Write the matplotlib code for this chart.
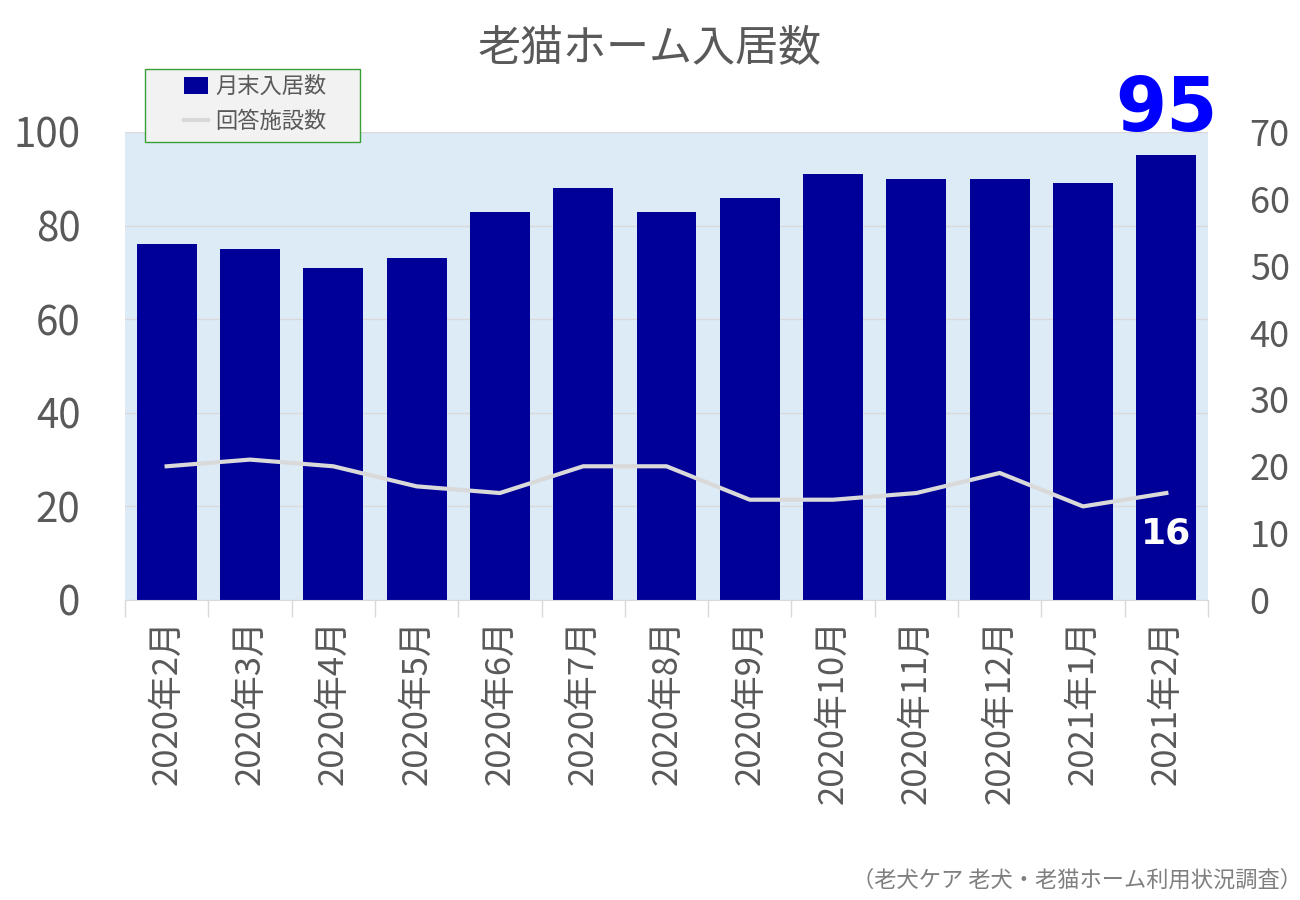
import matplotlib
matplotlib.use("Agg")
import matplotlib.pyplot as plt
from matplotlib.lines import Line2D
from matplotlib.patches import Patch, Rectangle

plt.rcParams['font.family'] = ['Noto Sans CJK JP', 'DejaVu Sans']

months = ["2020年2月", "2020年3月", "2020年4月", "2020年5月", "2020年6月",
          "2020年7月", "2020年8月", "2020年9月", "2020年10月", "2020年11月",
          "2020年12月", "2021年1月", "2021年2月"]
residents = [76, 75, 71, 73, 83, 88, 83, 86, 91, 90, 90, 89, 95]
facilities = [20, 21, 20, 17, 16, 20, 20, 15, 15, 16, 19, 14, 16]

grey = '#595959'
fig = plt.figure(figsize=(13, 9), dpi=100)
ax = fig.add_axes([125 / 1300, 1 - 600 / 900, (1208 - 125) / 1300, (600 - 132) / 900])
ax.set_facecolor('#DDEBF7')
x = list(range(len(months)))
ax.bar(x, residents, width=0.72, color='#000099', zorder=2)
ax.set_xlim(-0.5, len(months) - 0.5)
ax.set_ylim(0, 100)
ax.set_yticks(range(0, 101, 20))
ax.grid(axis='y', color='#D9D9D9', linewidth=1, zorder=1)
ax.set_xticks(x)
ax.set_xticklabels(months, rotation=90, fontsize=25, color=grey)
ax.set_xticks([i - 0.5 for i in range(len(months) + 1)], minor=True)
ax.tick_params(axis='x', which='major', length=0, pad=14)
ax.tick_params(axis='x', which='minor', length=12, color='#D9D9D9', width=1)
ax.tick_params(axis='y', length=0, pad=32, labelsize=29, labelcolor=grey)
for s in ['top', 'left', 'right']:
    ax.spines[s].set_visible(False)
ax.spines['bottom'].set_color('#D9D9D9')

ax2 = ax.twinx()
ax2.plot(x, facilities, color='#D9D9D9', linewidth=3, zorder=3)
ax2.set_ylim(0, 70)
ax2.set_yticks(range(0, 71, 10))
ax2.tick_params(axis='y', length=0, pad=30, labelsize=26, labelcolor=grey)
for s in ax2.spines.values():
    s.set_visible(False)

ax2.text(x[-1], facilities[-1] - 6, str(facilities[-1]), color='white',
         fontsize=26, fontweight='bold', family='DejaVu Sans', ha='center', va='center')
ax.text(x[-1], 96.8, str(residents[-1]), color='#0000FF', fontsize=53,
        fontweight='bold', family='DejaVu Sans', ha='center', va='bottom')

# legend box
fig.add_artist(Rectangle((145 / 1300, 1 - 142 / 900), 215 / 1300, 73 / 900,
                         transform=fig.transFigure, facecolor='#F2F2F2',
                         edgecolor='#38A038', linewidth=1, zorder=5))
handles = [Patch(facecolor='#000099'), Line2D([0], [0], color='#D9D9D9', linewidth=3)]
leg = fig.legend(handles, ['月末入居数', '回答施設数'], loc='upper left',
                 bbox_to_anchor=(184 / 1300, 1 - 75 / 900), fontsize=16,
                 frameon=False, handlelength=1.1, handleheight=0.8, handletextpad=0.3,
                 borderpad=0, labelspacing=0.55, borderaxespad=0)
leg.set_zorder(6)
for t in leg.get_texts():
    t.set_color(grey)

fig.text(0.5, 1 - 48 / 900, '老猫ホーム入居数', ha='center', va='center',
         fontsize=31, color=grey)
fig.text(1302 / 1300, 1 - 880 / 900, '（老犬ケア 老犬・老猫ホーム利用状況調査）',
         ha='right', va='center', fontsize=16, color='#7F7F7F')

fig.savefig('out.png', dpi=100)
